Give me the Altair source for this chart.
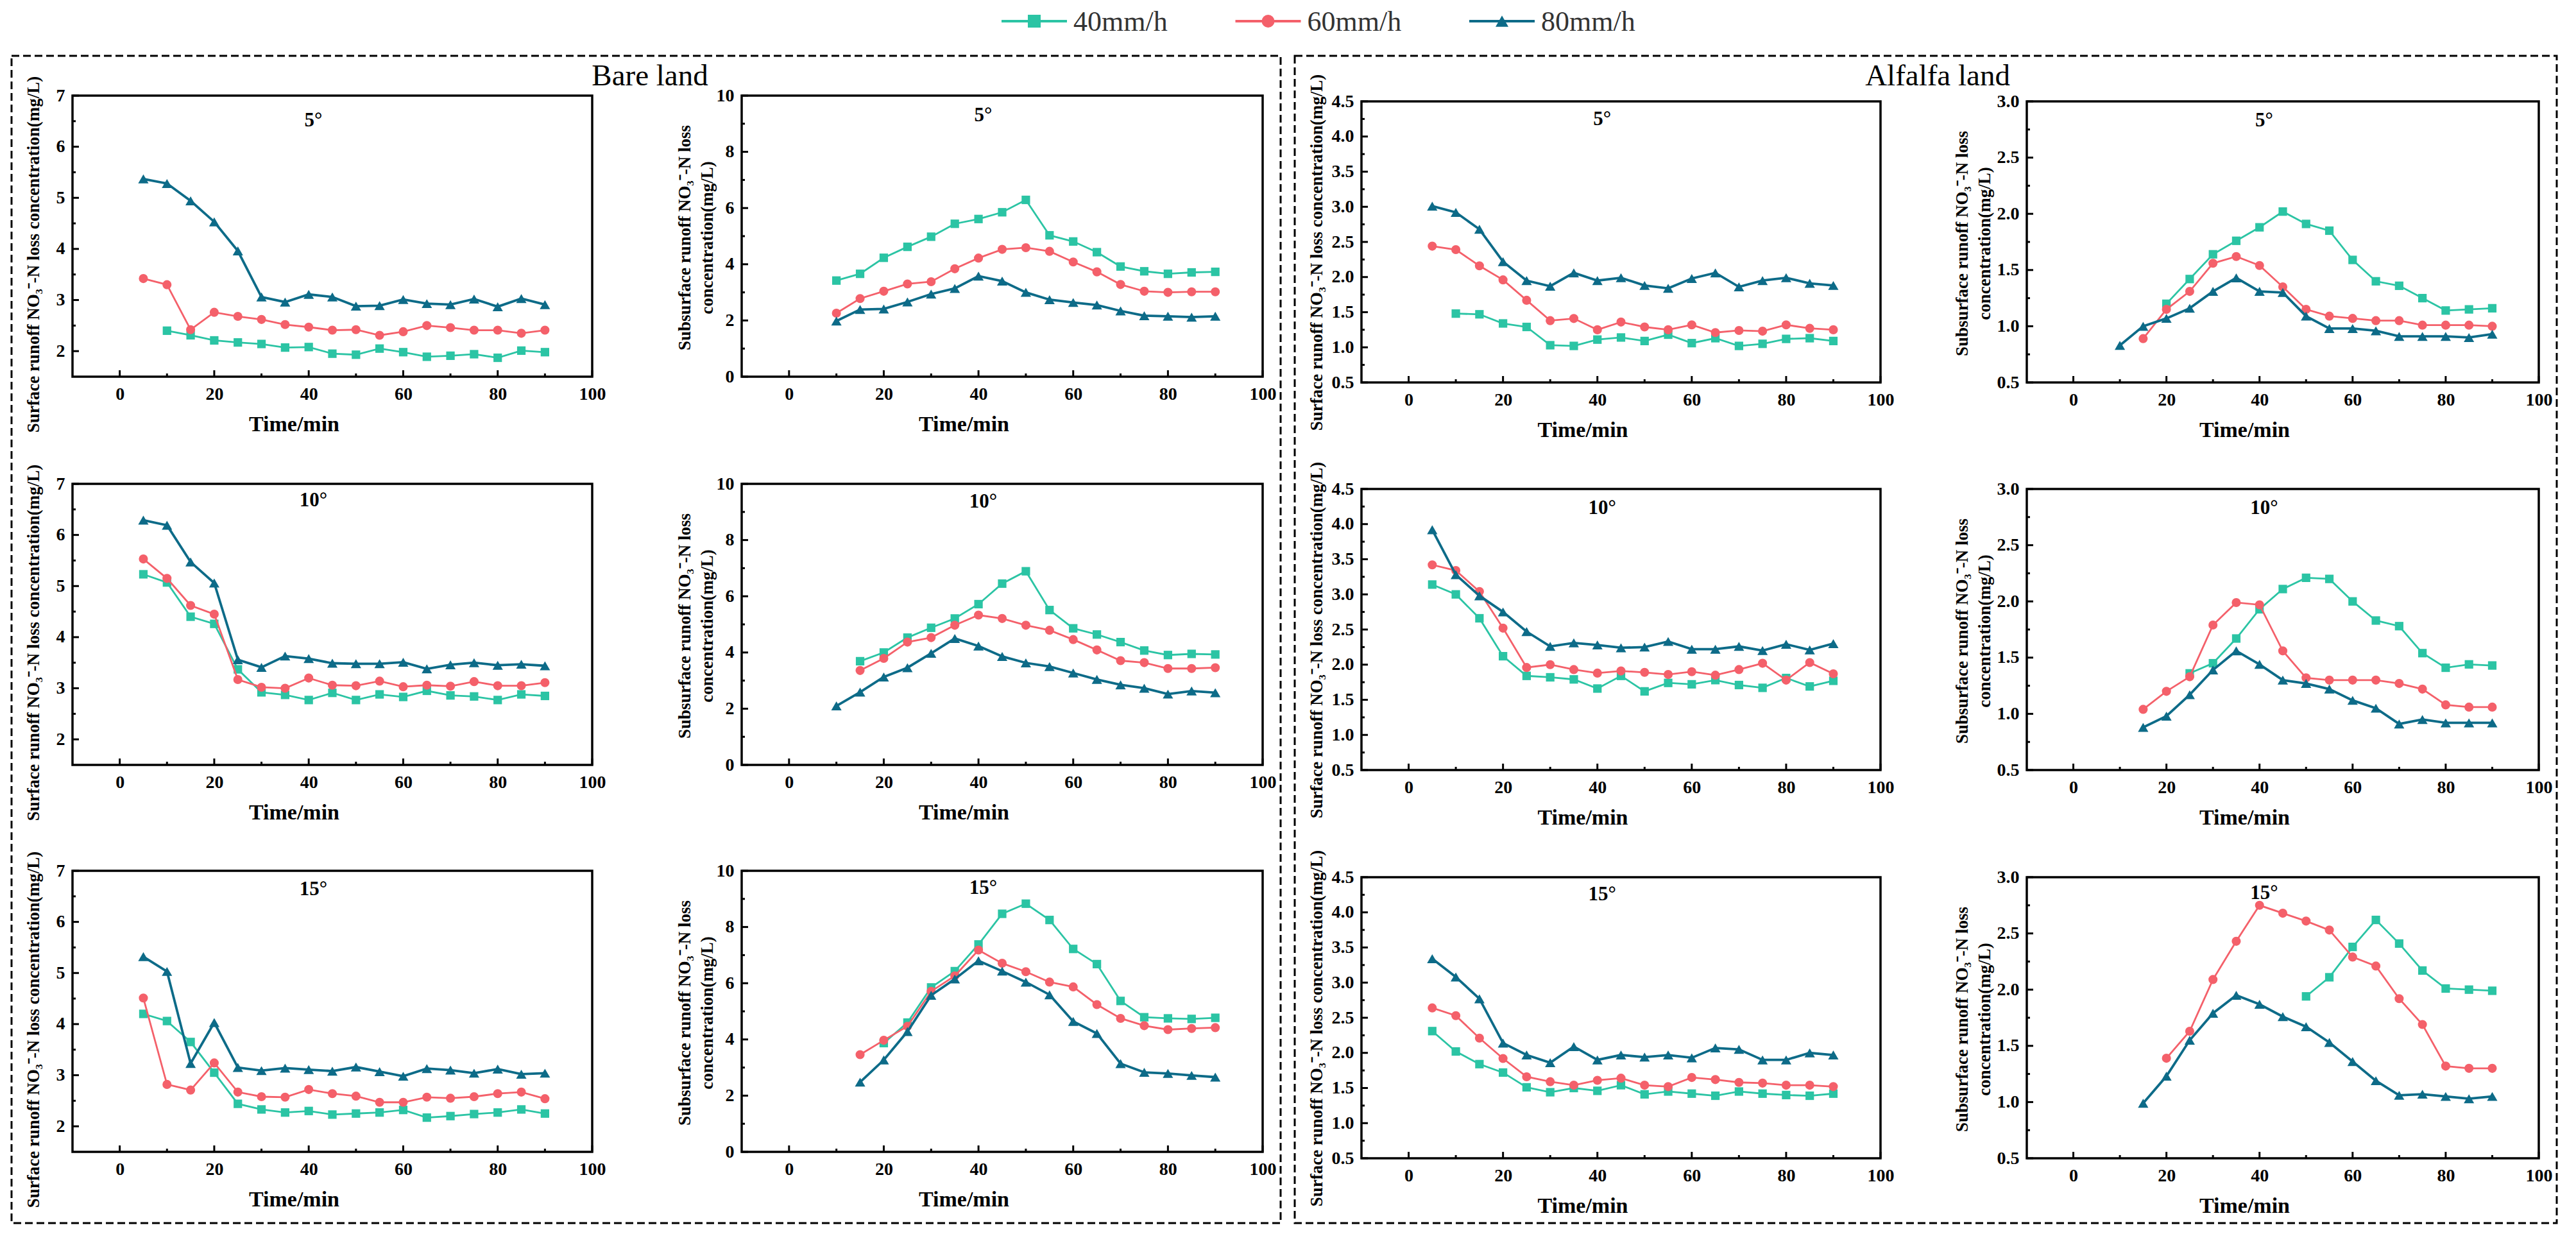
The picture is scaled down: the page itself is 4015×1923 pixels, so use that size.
import altair as alt
import pandas as pd

FONT = "Liberation Serif"
RATES = ["40mm/h", "60mm/h", "80mm/h"]
COLORS = ["#2bc4a4", "#f4606a", "#0d6b88"]
SHAPES = ["square", "circle", "triangle-up"]
MARK_SIZES = [175, 200, 260]
LINE_WIDTHS = [2.8, 2.8, 3.8]

TIME = [5, 10, 15, 20, 25, 30, 35, 40, 45, 50, 55, 60, 65, 70, 75, 80, 85, 90]

X_TICKS = [0, 20, 40, 60, 80, 100]
X_MINOR = [10, 30, 50, 70, 90]

BARE_SURF_Y = [2, 3, 4, 5, 6, 7]
BARE_SURF_MINOR = [2.5, 3.5, 4.5, 5.5, 6.5]
BARE_SUB_Y = [0, 2, 4, 6, 8, 10]
BARE_SUB_MINOR = [1, 3, 5, 7, 9]
ALF_SURF_Y = [0.5, 1.0, 1.5, 2.0, 2.5, 3.0, 3.5, 4.0, 4.5]
ALF_SURF_MINOR = [0.75, 1.25, 1.75, 2.25, 2.75, 3.25, 3.75, 4.25]
ALF_SUB_Y = [0.5, 1.0, 1.5, 2.0, 2.5, 3.0]
ALF_SUB_MINOR = [0.75, 1.25, 1.75, 2.25, 2.75]

# ---------- Bare land, surface runoff ----------
BARE_SURF_5_40 = [2.40, 2.31, 2.21, 2.17, 2.14, 2.07, 2.08, 1.95, 1.93, 2.05, 1.98, 1.89, 1.91, 1.94, 1.87, 2.01, 1.98]
BARE_SURF_5_60 = [3.42, 3.30, 2.42, 2.76, 2.68, 2.62, 2.52, 2.47, 2.41, 2.42, 2.31, 2.38, 2.50, 2.46, 2.41, 2.41, 2.35, 2.41]
BARE_SURF_5_80 = [5.37, 5.28, 4.94, 4.53, 3.96, 3.06, 2.96, 3.11, 3.06, 2.88, 2.89, 3.01, 2.93, 2.91, 3.02, 2.87, 3.03, 2.91]
BARE_SURF_10_40 = [5.23, 5.07, 4.40, 4.26, 3.37, 2.92, 2.87, 2.77, 2.91, 2.77, 2.88, 2.83, 2.95, 2.86, 2.84, 2.77, 2.88, 2.85]
BARE_SURF_10_60 = [5.53, 5.15, 4.62, 4.45, 3.17, 3.02, 3.00, 3.20, 3.06, 3.05, 3.14, 3.03, 3.06, 3.04, 3.13, 3.05, 3.05, 3.11]
BARE_SURF_10_80 = [6.29, 6.19, 5.47, 5.06, 3.56, 3.41, 3.63, 3.58, 3.49, 3.48, 3.48, 3.51, 3.38, 3.46, 3.50, 3.45, 3.47, 3.44]
BARE_SURF_15_40 = [4.20, 4.06, 3.65, 3.05, 2.44, 2.33, 2.27, 2.30, 2.23, 2.25, 2.27, 2.32, 2.17, 2.20, 2.24, 2.27, 2.33, 2.25]
BARE_SURF_15_60 = [4.51, 2.82, 2.71, 3.24, 2.67, 2.58, 2.57, 2.72, 2.64, 2.59, 2.47, 2.47, 2.57, 2.55, 2.58, 2.64, 2.67, 2.54]
BARE_SURF_15_80 = [5.32, 5.03, 3.23, 4.03, 3.15, 3.09, 3.14, 3.11, 3.08, 3.16, 3.07, 2.98, 3.13, 3.10, 3.04, 3.12, 3.02, 3.04]

# ---------- Bare land, subsurface runoff ----------
BARE_SUB_5_40 = [3.42, 3.66, 4.23, 4.62, 4.98, 5.44, 5.61, 5.85, 6.29, 5.03, 4.81, 4.43, 3.92, 3.75, 3.66, 3.71, 3.73]
BARE_SUB_5_60 = [2.26, 2.78, 3.04, 3.30, 3.38, 3.84, 4.22, 4.53, 4.59, 4.46, 4.08, 3.73, 3.28, 3.04, 3.00, 3.02, 3.02]
BARE_SUB_5_80 = [1.98, 2.39, 2.41, 2.66, 2.94, 3.14, 3.58, 3.40, 3.00, 2.74, 2.64, 2.55, 2.34, 2.17, 2.15, 2.12, 2.15]
BARE_SUB_10_40 = [3.69, 4.00, 4.53, 4.88, 5.21, 5.72, 6.45, 6.89, 5.51, 4.86, 4.64, 4.37, 4.07, 3.91, 3.95, 3.93]
BARE_SUB_10_60 = [3.36, 3.79, 4.37, 4.53, 4.97, 5.33, 5.21, 4.97, 4.79, 4.46, 4.09, 3.71, 3.64, 3.43, 3.43, 3.46]
BARE_SUB_10_80 = [2.10, 2.59, 3.13, 3.46, 3.97, 4.50, 4.23, 3.86, 3.63, 3.50, 3.27, 3.04, 2.85, 2.73, 2.52, 2.63, 2.57]
BARE_SUB_15_40 = [3.87, 4.60, 5.85, 6.43, 7.38, 8.47, 8.83, 8.25, 7.22, 6.68, 5.37, 4.79, 4.75, 4.73, 4.77]
BARE_SUB_15_60 = [3.46, 3.97, 4.47, 5.71, 6.26, 7.18, 6.71, 6.41, 6.04, 5.87, 5.24, 4.75, 4.49, 4.35, 4.39, 4.42]
BARE_SUB_15_80 = [2.48, 3.27, 4.28, 5.57, 6.15, 6.80, 6.43, 6.04, 5.59, 4.64, 4.21, 3.14, 2.83, 2.79, 2.72, 2.66]

# ---------- Alfalfa land, surface runoff ----------
ALF_SURF_5_40 = [1.48, 1.47, 1.34, 1.29, 1.03, 1.02, 1.11, 1.14, 1.09, 1.18, 1.06, 1.13, 1.02, 1.05, 1.12, 1.13, 1.09]
ALF_SURF_5_60 = [2.44, 2.39, 2.16, 1.96, 1.67, 1.38, 1.41, 1.25, 1.36, 1.29, 1.25, 1.32, 1.21, 1.24, 1.23, 1.32, 1.27, 1.25]
ALF_SURF_5_80 = [3.01, 2.92, 2.68, 2.22, 1.95, 1.87, 2.06, 1.95, 1.99, 1.88, 1.84, 1.98, 2.06, 1.86, 1.95, 1.99, 1.91, 1.88]
ALF_SURF_10_40 = [3.14, 3.00, 2.66, 2.12, 1.84, 1.82, 1.79, 1.66, 1.84, 1.62, 1.74, 1.72, 1.78, 1.71, 1.67, 1.81, 1.69, 1.77]
ALF_SURF_10_60 = [3.42, 3.34, 3.04, 2.52, 1.96, 2.00, 1.93, 1.88, 1.91, 1.89, 1.86, 1.90, 1.85, 1.93, 2.02, 1.78, 2.03, 1.87]
ALF_SURF_10_80 = [3.92, 3.28, 2.98, 2.75, 2.47, 2.26, 2.31, 2.28, 2.24, 2.25, 2.33, 2.22, 2.22, 2.26, 2.20, 2.29, 2.21, 2.30]
ALF_SURF_15_40 = [2.31, 2.02, 1.84, 1.72, 1.51, 1.44, 1.50, 1.46, 1.54, 1.41, 1.45, 1.42, 1.39, 1.45, 1.42, 1.40, 1.39, 1.42]
ALF_SURF_15_60 = [2.64, 2.53, 2.21, 1.92, 1.66, 1.59, 1.54, 1.61, 1.64, 1.54, 1.52, 1.65, 1.62, 1.58, 1.57, 1.54, 1.54, 1.52]
ALF_SURF_15_80 = [3.34, 3.08, 2.77, 2.14, 1.97, 1.86, 2.09, 1.90, 1.97, 1.94, 1.97, 1.93, 2.07, 2.05, 1.90, 1.90, 2.00, 1.97]

# ---------- Alfalfa land, subsurface runoff ----------
ALF_SUB_5_40 = [1.20, 1.42, 1.64, 1.76, 1.88, 2.02, 1.91, 1.85, 1.59, 1.40, 1.36, 1.25, 1.14, 1.15, 1.16]
ALF_SUB_5_60 = [0.89, 1.15, 1.31, 1.56, 1.62, 1.54, 1.35, 1.15, 1.09, 1.07, 1.05, 1.05, 1.01, 1.01, 1.01, 1.00]
ALF_SUB_5_80 = [0.83, 1.00, 1.07, 1.16, 1.31, 1.43, 1.31, 1.30, 1.09, 0.98, 0.98, 0.96, 0.91, 0.91, 0.91, 0.90, 0.93]
ALF_SUB_10_40 = [1.36, 1.45, 1.67, 1.93, 2.11, 2.21, 2.20, 2.00, 1.83, 1.78, 1.54, 1.41, 1.44, 1.43]
ALF_SUB_10_60 = [1.04, 1.20, 1.33, 1.79, 1.99, 1.97, 1.56, 1.32, 1.30, 1.30, 1.30, 1.27, 1.22, 1.08, 1.06, 1.06]
ALF_SUB_10_80 = [0.88, 0.98, 1.17, 1.39, 1.56, 1.44, 1.30, 1.27, 1.22, 1.12, 1.05, 0.91, 0.95, 0.92, 0.92, 0.92]
ALF_SUB_15_40 = [1.94, 2.11, 2.38, 2.62, 2.41, 2.17, 2.01, 2.00, 1.99]
ALF_SUB_15_60 = [1.39, 1.63, 2.09, 2.43, 2.75, 2.68, 2.61, 2.53, 2.29, 2.21, 1.92, 1.69, 1.32, 1.30, 1.30]
ALF_SUB_15_80 = [0.99, 1.23, 1.55, 1.79, 1.95, 1.87, 1.76, 1.67, 1.53, 1.36, 1.19, 1.06, 1.07, 1.05, 1.03, 1.05]

# panels: (land, kind, slope, [(start, values) for 40/60/80])
PANELS = [
    ("bare", "surface", 5, [(10, BARE_SURF_5_40), (5, BARE_SURF_5_60), (5, BARE_SURF_5_80)]),
    ("bare", "subsurface", 5, [(10, BARE_SUB_5_40), (10, BARE_SUB_5_60), (10, BARE_SUB_5_80)]),
    ("alfalfa", "surface", 5, [(10, ALF_SURF_5_40), (5, ALF_SURF_5_60), (5, ALF_SURF_5_80)]),
    ("alfalfa", "subsurface", 5, [(20, ALF_SUB_5_40), (15, ALF_SUB_5_60), (10, ALF_SUB_5_80)]),
    ("bare", "surface", 10, [(5, BARE_SURF_10_40), (5, BARE_SURF_10_60), (5, BARE_SURF_10_80)]),
    ("bare", "subsurface", 10, [(15, BARE_SUB_10_40), (15, BARE_SUB_10_60), (10, BARE_SUB_10_80)]),
    ("alfalfa", "surface", 10, [(5, ALF_SURF_10_40), (5, ALF_SURF_10_60), (5, ALF_SURF_10_80)]),
    ("alfalfa", "subsurface", 10, [(25, ALF_SUB_10_40), (15, ALF_SUB_10_60), (15, ALF_SUB_10_80)]),
    ("bare", "surface", 15, [(5, BARE_SURF_15_40), (5, BARE_SURF_15_60), (5, BARE_SURF_15_80)]),
    ("bare", "subsurface", 15, [(20, BARE_SUB_15_40), (15, BARE_SUB_15_60), (15, BARE_SUB_15_80)]),
    ("alfalfa", "surface", 15, [(5, ALF_SURF_15_40), (5, ALF_SURF_15_60), (5, ALF_SURF_15_80)]),
    ("alfalfa", "subsurface", 15, [(50, ALF_SUB_15_40), (20, ALF_SUB_15_60), (15, ALF_SUB_15_80)]),
]

# ---------- layout (pixels inside the single view) ----------
OV_W, OV_H = 3985, 1895
PLOT_H = 438
COL_X0 = [100, 1143, 2109, 3146]
COL_X1 = [910, 1955, 2918, 3944]
ROW_Y0 = {"bare": [136, 741, 1344], "alfalfa": [145, 749, 1354]}
YTITLE_X = [-61, -89, -70, -101]
TITLE_BASE = [48, 40, 37, 39, 35, 37, 39, 39, 38, 36, 36, 34]

SURF_TITLE = "Surface runoff NO\u2083\u207b-N loss concentration(mg/L)"
SUB_TITLE = ["Subsurface runoff NO\u2083\u207b-N loss", "concentration(mg/L)"]


def series_df(start, values):
    i = TIME.index(start)
    return pd.DataFrame({"time": TIME[i:i + len(values)], "value": values})


def make_panel(idx, spec):
    land, kind, slope, series = spec
    col, row = idx % 4, idx // 4
    x0, x1 = COL_X0[col], COL_X1[col]
    y0 = ROW_Y0[land][row]
    y1 = y0 + PLOT_H

    if land == "bare" and kind == "surface":
        ydom, yvals, yminor, fmt = [1.5, 7], BARE_SURF_Y, BARE_SURF_MINOR, "d"
    elif land == "bare":
        ydom, yvals, yminor, fmt = [0, 10], BARE_SUB_Y, BARE_SUB_MINOR, "d"
    elif kind == "surface":
        ydom, yvals, yminor, fmt = [0.5, 4.5], ALF_SURF_Y, ALF_SURF_MINOR, ".1f"
    else:
        ydom, yvals, yminor, fmt = [0.5, 3.0], ALF_SUB_Y, ALF_SUB_MINOR, ".1f"

    if kind == "surface":
        ytitle = SURF_TITLE
        ty = (y0 + y1) / 2 + (28 if land == "bare" else 16)
    else:
        ytitle = SUB_TITLE
        ty = (y0 + y1) / 2 + 2

    xs = alt.Scale(domain=[-10, 100], range=[x0, x1], nice=False, zero=False)
    ys = alt.Scale(domain=ydom, range=[y1, y0], nice=False, zero=False)

    xaxis = alt.Axis(
        orient="bottom", offset=y1 - OV_H,
        values=X_TICKS, format="d", title="Time/min",
        titleFont=FONT, titleFontSize=34, titleFontWeight="bold", titleColor="black",
        titleX=(x0 + x1) / 2 - 60, titleY=84, titleAlign="center", titleBaseline="alphabetic",
        labelFont=FONT, labelFontSize=28, labelFontWeight="bold", labelColor="black",
        labelPadding=35, labelBaseline="alphabetic", labelFlush=False, labelOverlap=False,
        ticks=False, tickSize=0, domain=False, grid=False,
    )
    yaxis = alt.Axis(
        orient="left", offset=-x0,
        values=yvals, format=fmt, title=ytitle,
        titleFont=FONT, titleFontSize=27, titleFontWeight="bold", titleColor="black",
        titleX=YTITLE_X[col], titleY=ty, titleAngle=270, titleAlign="center",
        titleBaseline="middle", titleLineHeight=35,
        labelFont=FONT, labelFontSize=28, labelFontWeight="bold", labelColor="black",
        labelPadding=12, labelBaseline="middle", labelFlush=False, labelOverlap=False,
        ticks=False, tickSize=0, domain=False, grid=False,
    )

    one = alt.Data(values=[{}])
    layers = []
    for k, (start, vals) in enumerate(series):
        df = series_df(start, vals)
        if k == 0:
            xe = alt.X("time:Q", scale=xs, axis=xaxis)
            ye = alt.Y("value:Q", scale=ys, axis=yaxis)
        else:
            xe = alt.X("time:Q", scale=xs)
            ye = alt.Y("value:Q", scale=ys)
        layers.append(
            alt.Chart(df).mark_line(color=COLORS[k], strokeWidth=LINE_WIDTHS[k]).encode(x=xe, y=ye)
        )
        layers.append(
            alt.Chart(df).mark_point(
                shape=SHAPES[k], filled=True, opacity=1, size=MARK_SIZES[k], color=COLORS[k]
            ).encode(x=alt.X("time:Q", scale=xs), y=alt.Y("value:Q", scale=ys))
        )
    # frame of the panel, drawn through the panel's scales
    layers.append(
        alt.Chart(one).mark_rect(fillOpacity=0, stroke="black", strokeWidth=3.5).encode(
            x=alt.XDatum(-10, scale=xs), x2=alt.X2Datum(100),
            y=alt.YDatum(ydom[0], scale=ys), y2=alt.Y2Datum(ydom[1]),
        )
    )
    # inward ticks
    for vals, ln in ((X_TICKS, 10), (X_MINOR, 5)):
        layers.append(
            alt.Chart(pd.DataFrame({"time": vals})).mark_rule(color="black", strokeWidth=3).encode(
                x=alt.X("time:Q", scale=xs), y=alt.value(y1), y2=alt.value(y1 - ln)
            )
        )
    for vals, ln in ((yvals, 10), (yminor, 5)):
        layers.append(
            alt.Chart(pd.DataFrame({"value": vals})).mark_rule(color="black", strokeWidth=3).encode(
                y=alt.Y("value:Q", scale=ys), x=alt.value(x0), x2=alt.value(x0 + ln)
            )
        )
    layers.append(
        alt.Chart(one).mark_text(
            text=f"{slope}\u00b0", font=FONT, fontSize=31, fontWeight="bold",
            color="black", align="center", baseline="alphabetic",
        ).encode(x=alt.XDatum(41, scale=xs), y=alt.value(y0 + TITLE_BASE[idx]))
    )
    return alt.layer(*layers)


panels = [make_panel(i, p) for i, p in enumerate(PANELS)]

# ---------- dashed boxes, group titles, legend ----------
one = alt.Data(values=[{}])
box_left = alt.Chart(one).mark_rect(
    fillOpacity=0, stroke="black", strokeWidth=3, strokeDash=[12, 6]
).encode(x=alt.value(5), x2=alt.value(1983), y=alt.value(74), y2=alt.value(1893))
box_right = alt.Chart(one).mark_rect(
    fillOpacity=0, stroke="black", strokeWidth=3, strokeDash=[12, 6]
).encode(x=alt.value(2005), x2=alt.value(3972), y=alt.value(74), y2=alt.value(1893))
title_left = alt.Chart(one).mark_text(
    text="Bare land", font=FONT, fontSize=47, color="black", align="center", baseline="alphabetic"
).encode(x=alt.value(1000), y=alt.value(120))
title_right = alt.Chart(one).mark_text(
    text="Alfalfa land", font=FONT, fontSize=47, color="black", align="center", baseline="alphabetic"
).encode(x=alt.value(3007), y=alt.value(120))

leg_df = pd.DataFrame({"rate": RATES})
leg_x = alt.X("rate:N", scale=alt.Scale(type="point", domain=RATES, range=[1599, 2328], padding=0), axis=None)
leg_color = alt.Color("rate:N", scale=alt.Scale(domain=RATES, range=COLORS), legend=None)
leg_rule = alt.Chart(leg_df).mark_rule(strokeWidth=4, xOffset=-51, x2Offset=51).encode(
    x=leg_x, x2=alt.X2("rate"), y=alt.value(20), color=leg_color
)
leg_pts = alt.Chart(leg_df).mark_point(filled=True, opacity=1, size=400).encode(
    x=leg_x, y=alt.value(20), color=leg_color,
    shape=alt.Shape("rate:N", scale=alt.Scale(domain=RATES, range=SHAPES), legend=None),
)
leg_text = alt.Chart(leg_df).mark_text(
    align="left", dx=61, baseline="alphabetic", font=FONT, fontSize=44, color="#333333"
).encode(x=leg_x, y=alt.value(35), text="rate:N")
legend = alt.layer(leg_rule, leg_pts, leg_text)

chart = alt.layer(
    box_left, box_right, title_left, title_right, legend, *panels
).resolve_scale(
    x="independent", y="independent", color="independent", shape="independent"
).properties(
    width=OV_W, height=OV_H, background="white"
).configure_view(stroke="transparent")

chart.save("out.html", embed_options={"renderer": "svg", "actions": False})
